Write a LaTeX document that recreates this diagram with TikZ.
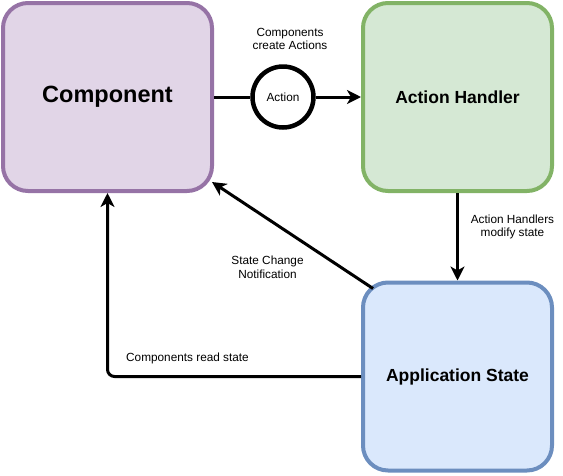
\documentclass[tikz,border=0pt]{standalone}
\usepackage{fontspec}
\setmainfont{Liberation Sans}
\usetikzlibrary{arrows.meta,positioning}
\definecolor{compfill}{HTML}{E1D5E7}
\definecolor{compline}{HTML}{9673A6}
\definecolor{handfill}{HTML}{D5E8D4}
\definecolor{handline}{HTML}{82B366}
\definecolor{statefill}{HTML}{DAE8FC}
\definecolor{stateline}{HTML}{6C8EBF}
\tikzstyle{block} = [draw, rectangle, rounded corners=25pt, line width=4pt, minimum width=189pt, minimum height=188pt, inner sep=0pt, font=\fontsize{17.5}{20}\selectfont\bfseries]
\tikzstyle{act} = [draw, circle, line width=4.5pt, fill=white, minimum size=61pt, inner sep=0pt, font=\fontsize{11.8}{13.5}\selectfont]
\tikzstyle{note} = [align=center, inner sep=0pt, font=\fontsize{11.8}{13.5}\selectfont]
\tikzstyle{wire} = [line width=3pt]

\begin{document}
\begin{tikzpicture}[auto, node distance=350pt, >={Stealth[length=14pt,width=14pt,inset=4pt]}]

\useasboundingbox (0,0) rectangle (563pt,-475pt);

\node [block, fill=compfill, draw=compline, minimum width=209pt, font=\fontsize{23.5}{26}\selectfont\bfseries] (comp) at (107.5pt,-97pt) {Component};
\node [block, fill=handfill, draw=handline, right of=comp] (handler) {Action Handler};
\node [block, fill=statefill, draw=stateline, below of=handler, node distance=279.5pt] (state) {Application State};
\node [act, right of=comp, node distance=175.5pt] (action) {Action};

\node [note, above of=action, node distance=58pt, xshift=7pt] (create) {Components\\create Actions};
\node [note, below of=handler, node distance=130pt, xshift=55pt] (modify) {Action Handlers\\modify state};
\node [note, left of=state, node distance=190pt, yshift=109pt] (notify) {State Change\\Notification};
\node [note, left of=state, node distance=270pt, yshift=18.5pt] (read) {Components read state};

\draw [wire] (comp) -- (action);
\draw [wire, ->] (action) -- (handler);
\draw [wire, ->] (handler) -- (state);
\draw [wire, ->] ([shift={(12pt,-8pt)}]state.north west) -- ([shift={(-2pt,11pt)}]comp.south east);
\draw [wire, ->, rounded corners=7pt] (state) -| (comp);

\end{tikzpicture}
\end{document}
